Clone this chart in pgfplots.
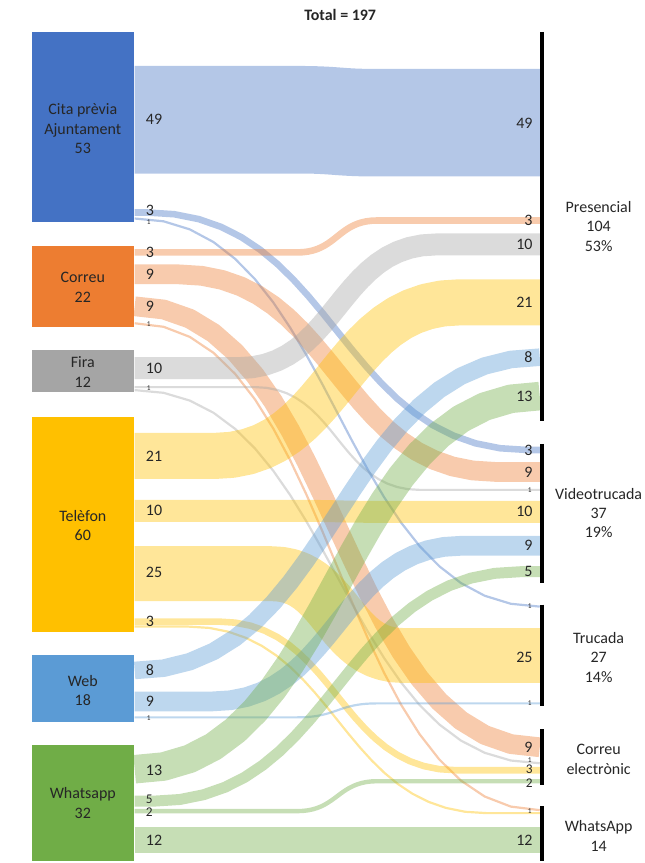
\documentclass[border=0pt]{standalone}
\usepackage{pgfplots}
\pgfplotsset{compat=1.18}
\usepackage{fontspec}
\setmainfont{Carlito}
\definecolor{ccita}{HTML}{4472C4}
\definecolor{ccorreu}{HTML}{ED7D31}
\definecolor{cfira}{HTML}{A5A5A5}
\definecolor{ctel}{HTML}{FFC000}
\definecolor{cweb}{HTML}{5B9BD5}
\definecolor{cwa}{HTML}{70AD47}
\definecolor{txt}{HTML}{262626}
\newcommand\lbl{\fontsize{12}{14.5}\selectfont}
\newcommand\slbl{\fontsize{10}{11}\selectfont}
\newcommand\tlbl{\fontsize{5.5}{6}\selectfont}
\tikzset{lab/.style={font=\lbl, text=txt, inner sep=0pt}}
% flow: #1 = y at source, #2 = y at target, #3 = value, #4 = colour
\newcommand\fpt[2]{(\fpeval{338+\fw*(#1)},\fpeval{\fya+(\fyb-\fya)*(#2)}) }
\newcommand\flow[4]{%
  \edef\fw{\fpeval{min(203,max(40,0.8*abs((#2)-(#1))))}}%
  \edef\fya{#1}\edef\fyb{#2}%
  \edef\flowtmp{\noexpand\addplot[draw=#4, draw opacity=0.4, line width=\fpeval{#3*1.65}pt, line join=round, mark=none] coordinates {(135,#1)
    \fpt{-1}{0} \fpt{-0.85725}{0.00725} \fpt{-0.728}{0.028} \fpt{-0.61075}{0.06075}
    \fpt{-0.504}{0.104} \fpt{-0.40625}{0.15625} \fpt{-0.316}{0.216} \fpt{-0.23175}{0.28175}
    \fpt{-0.152}{0.352} \fpt{-0.07525}{0.42525} \fpt{0}{0.5} \fpt{0.07525}{0.57475}
    \fpt{0.152}{0.648} \fpt{0.23175}{0.71825} \fpt{0.316}{0.784} \fpt{0.40625}{0.84375}
    \fpt{0.504}{0.896} \fpt{0.61075}{0.93925} \fpt{0.728}{0.972} \fpt{0.85725}{0.99275}
    \fpt{1}{1} (541,#2)};}%
  \flowtmp}
\begin{document}
\begin{tikzpicture}
\begin{axis}[
  width=484.5pt, height=647.25pt, scale only axis,
  xmin=0, xmax=646, ymin=0, ymax=863, y dir=reverse,
  hide axis, clip=false,
]
% ---- flows (source y, target y, value) ----
\flow{120}{123}{49}{ccita}
\flow{213}{451}{3}{ccita}
\flow{219}{608}{1}{ccita}
\flow{253}{221}{3}{ccorreu}
\flow{275}{473}{9}{ccorreu}
\flow{307}{749}{9}{ccorreu}
\flow{324}{812}{1}{ccorreu}
\flow{369}{245}{10}{cfira}
\flow{388}{491}{1}{cfira}
\flow{391}{765}{1}{cfira}
\flow{457}{303}{21}{ctel}
\flow{512}{513}{10}{ctel}
\flow{575}{657}{25}{ctel}
\flow{623}{772}{3}{ctel}
\flow{628}{815}{1}{ctel}
\flow{672}{358}{8}{cweb}
\flow{703}{547}{9}{cweb}
\flow{719}{705}{1}{cweb}
\flow{771}{397}{13}{cwa}
\flow{803}{573}{5}{cwa}
\flow{813}{783}{2}{cwa}
\flow{842}{842}{12}{cwa}
% ---- source nodes ----
\addplot[fill=ccita, draw=none] coordinates {(32,32) (134,32) (134,223) (32,223)};
\addplot[fill=ccorreu, draw=none] coordinates {(32,247) (134,247) (134,328) (32,328)};
\addplot[fill=cfira, draw=none] coordinates {(32,351) (134,351) (134,393) (32,393)};
\addplot[fill=ctel, draw=none] coordinates {(32,418) (134,418) (134,633) (32,633)};
\addplot[fill=cweb, draw=none] coordinates {(32,657) (134,657) (134,724) (32,724)};
\addplot[fill=cwa, draw=none] coordinates {(32,747) (134,747) (134,863) (32,863)};
% ---- target bars ----
\addplot[black, line width=3pt] coordinates {(543,32) (543,422)};
\addplot[black, line width=3pt] coordinates {(543,445) (543,584)};
\addplot[black, line width=3pt] coordinates {(543,606) (543,708)};
\addplot[black, line width=3pt] coordinates {(543,731) (543,787)};
\addplot[black, line width=3pt] coordinates {(543,808) (543,863)};
% ---- title and node labels ----
\node[lab, font=\lbl\bfseries] at (341,15) {Total = 197};
\node[lab, align=center] at (83,129) {Cita prèvia\\Ajuntament\\53};
\node[lab, align=center] at (83,288) {Correu\\22};
\node[lab, align=center] at (83,373) {Fira\\12};
\node[lab, align=center] at (83,527) {Telèfon\\60};
\node[lab, align=center] at (83,692) {Web\\18};
\node[lab, align=center] at (83,805) {Whatsapp\\32};
\node[lab, align=center] at (600,227) {Presencial\\104\\53\%};
\node[lab, align=center] at (600,514) {Videotrucada\\37\\19\%};
\node[lab, align=center] at (600,659) {Trucada\\27\\14\%};
\node[lab, align=center] at (600,761) {Correu\\electrònic};
\node[lab, align=center] at (600,838) {WhatsApp\\14};
% ---- flow value labels, source side ----
\node[lab, anchor=west] at (146,120) {49};
\node[lab, anchor=west] at (146,211) {3};
\node[lab, anchor=west,font=\tlbl] at (147,222.5) {1};
\node[lab, anchor=west] at (146,253) {3};
\node[lab, anchor=west] at (146,275) {9};
\node[lab, anchor=west] at (146,307) {9};
\node[lab, anchor=west,font=\tlbl] at (147,325) {1};
\node[lab, anchor=west] at (146,369) {10};
\node[lab, anchor=west,font=\tlbl] at (147,389) {1};
\node[lab, anchor=west] at (146,457) {21};
\node[lab, anchor=west] at (146,512) {10};
\node[lab, anchor=west] at (146,574) {25};
\node[lab, anchor=west] at (146,623) {3};
\node[lab, anchor=west] at (146,672) {8};
\node[lab, anchor=west] at (146,703) {9};
\node[lab, anchor=west,font=\tlbl] at (147,720) {1};
\node[lab, anchor=west] at (146,772) {13};
\node[lab, anchor=west,font=\slbl] at (146,801.5) {5};
\node[lab, anchor=west,font=\slbl] at (146,814.5) {2};
\node[lab, anchor=west] at (146,842) {12};
% ---- flow value labels, target side ----
\node[lab, anchor=east] at (534,124) {49};
\node[lab, anchor=east] at (534,221) {3};
\node[lab, anchor=east] at (534,245) {10};
\node[lab, anchor=east] at (534,303) {21};
\node[lab, anchor=east] at (534,358) {8};
\node[lab, anchor=east] at (534,397) {13};
\node[lab, anchor=east] at (534,451) {3};
\node[lab, anchor=east] at (534,473) {9};
\node[lab, anchor=east,font=\tlbl] at (533,491) {1};
\node[lab, anchor=east] at (534,513) {10};
\node[lab, anchor=east] at (534,547) {9};
\node[lab, anchor=east] at (534,573) {5};
\node[lab, anchor=east,font=\tlbl] at (533,608) {1};
\node[lab, anchor=east] at (534,659) {25};
\node[lab, anchor=east,font=\tlbl] at (533,705) {1};
\node[lab, anchor=east] at (534,749) {9};
\node[lab, anchor=east,font=\tlbl] at (533,761.5) {1};
\node[lab, anchor=east,font=\slbl] at (534,770.5) {3};
\node[lab, anchor=east,font=\slbl] at (534,784.5) {2};
\node[lab, anchor=east,font=\tlbl] at (533,813) {1};
\node[lab, anchor=east] at (534,842) {12};
\end{axis}
\path (current axis.south west) rectangle (current axis.north east);
\end{tikzpicture}
\end{document}
